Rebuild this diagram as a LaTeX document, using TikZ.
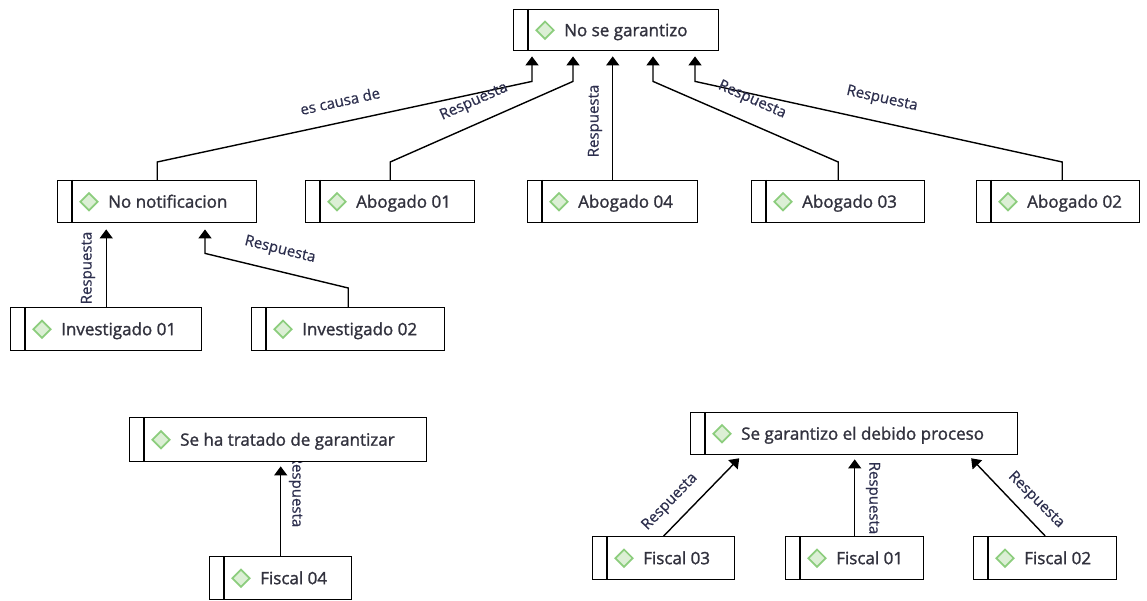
\documentclass[tikz,border=0pt]{standalone}
\usepackage{fontspec}
\setmainfont{Open Sans}
\newfontfamily\boxfont{Open Sans}[FakeBold=1.4]
\newfontfamily\labfont{Open Sans}[FakeBold=0.6]
\usetikzlibrary{shapes.geometric,arrows.meta,calc}
\definecolor{txt}{RGB}{50,50,62}
\definecolor{ltxt}{RGB}{45,47,78}
\definecolor{dfill}{RGB}{220,239,213}
\definecolor{ddraw}{RGB}{140,205,125}
\pgfdeclarelayer{back}
\pgfdeclarelayer{bg}
\pgfsetlayers{back,bg,main}
\tikzset{
 pbox/.style={draw=black, line width=1.4pt, fill=white, rectangle, inner sep=0pt, anchor=north west},
 diam/.style={diamond, draw=ddraw, fill=dfill, line width=1.7pt, minimum width=18pt, minimum height=18pt, inner sep=0pt},
 btext/.style={font=\boxfont\fontsize{17}{20}\selectfont, text=txt, inner sep=0pt, anchor=base west},
 elabel/.style={font=\labfont\fontsize{15}{18}\selectfont, text=ltxt, inner sep=0pt},
 conn/.style={draw=black, line width=1.4pt, -{Triangle[width=13pt,length=9pt]}},
}
\newcommand\pbx[6]{%
 \node[pbox, minimum width=#4pt, minimum height=#5pt] (#1) at (#2,#3) {};
 \draw[line width=1.4pt] ([xshift=15pt]#1.north west) -- ([xshift=15pt]#1.south west);
 \node[diam] (#1-d) at ([xshift=32pt]#1.west) {};
 \node[btext] (#1-t) at ([xshift=51pt,yshift=-6pt]#1.west) {#6};
}
\begin{document}
\begin{tikzpicture}[x=1pt,y=-1pt]
\begin{pgfonlayer}{back}
\fill[white] (0,0) rectangle (1147,601);
\end{pgfonlayer}
\useasboundingbox (0,0) rectangle (1147,601);
% boxes
\pbx{top}{513}{9}{205}{41}{No se garantizo}
\pbx{nonot}{57}{180}{199}{42}{No notificacion}
\pbx{ab01}{305}{180}{169}{42}{Abogado 01}
\pbx{ab04}{527}{180}{170}{42}{Abogado 04}
\pbx{ab03}{751}{180}{173}{42}{Abogado 03}
\pbx{ab02}{976}{180}{163}{42}{Abogado 02}
\pbx{inv01}{10}{307}{191}{43}{Investigado 01}
\pbx{inv02}{251}{307}{193}{43}{Investigado 02}
\pbx{trat}{129}{417}{297}{44}{Se ha tratado de garantizar}
\pbx{f04}{209}{556}{142}{43}{Fiscal 04}
\pbx{segar}{690}{412}{327}{42}{Se garantizo el debido proceso}
\pbx{f03}{592}{536}{142}{43}{Fiscal 03}
\pbx{f01}{785}{536}{138}{43}{Fiscal 01}
\pbx{f02}{973}{536}{143}{43}{Fiscal 02}
\begin{pgfonlayer}{bg}
% connectors
\draw[conn, shorten >=5pt] (nonot.north) -- ++(0,-18) -- ($(top.south west)+(19,30)$) -- ([xshift=19pt]top.south west);
\draw[conn, shorten >=5pt] (ab01.north) -- ++(0,-18) -- ($(top.south west)+(60,30)$) -- ([xshift=60pt]top.south west);
\draw[conn, shorten >=5pt] (ab04.north) -- (ab04.north |- top.south);
\draw[conn, shorten >=5pt] (ab03.north) -- ++(0,-18) -- ($(top.south west)+(140,30)$) -- ([xshift=140pt]top.south west);
\draw[conn, shorten >=5pt] ([xshift=4pt]ab02.north) -- ++(0,-18) -- ($(top.south west)+(182,30)$) -- ([xshift=182pt]top.south west);
\draw[conn, shorten >=6pt] (inv01.north) -- (inv01.north |- nonot.south);
\draw[conn, shorten >=6pt] (inv02.north) -- ++(0,-19) -- ($(nonot.south west)+(148,30)$) -- ([xshift=148pt]nonot.south west);
\draw[conn, shorten >=4pt] (f04.north) -- (f04.north |- trat.south);
\draw[conn, shorten >=4pt] (f03.north) -- ([xshift=52pt]segar.south west);
\draw[conn, shorten >=4pt] (f01.north) -- (f01.north |- segar.south);
\draw[conn, shorten >=4pt] (f02.north) -- ([xshift=-50pt]segar.south east);
% labels
\node[elabel, rotate=12.3] (la) at (340,101) {es causa de};
\node[elabel, rotate=24] (lb) at (474,102) {Respuesta};
\node[elabel, rotate=90] (lc) at (595,121) {Respuesta};
\node[elabel, rotate=-24] (ld) at (752,100) {Respuesta};
\node[elabel, rotate=-12.6] (le) at (882,99) {Respuesta};
\node[elabel, rotate=90] (lf) at (88,268) {Respuesta};
\node[elabel, rotate=-14] (lg) at (280,250) {Respuesta};
\node[elabel, rotate=-90] (lh) at (296,491) {Respuesta};
\node[elabel, rotate=46] (li) at (670,502) {Respuesta};
\node[elabel, rotate=-90] (lj) at (873,498) {Respuesta};
\node[elabel, rotate=-45] (lk) at (1036,500) {Respuesta};
\end{pgfonlayer}
\end{tikzpicture}
\end{document}
